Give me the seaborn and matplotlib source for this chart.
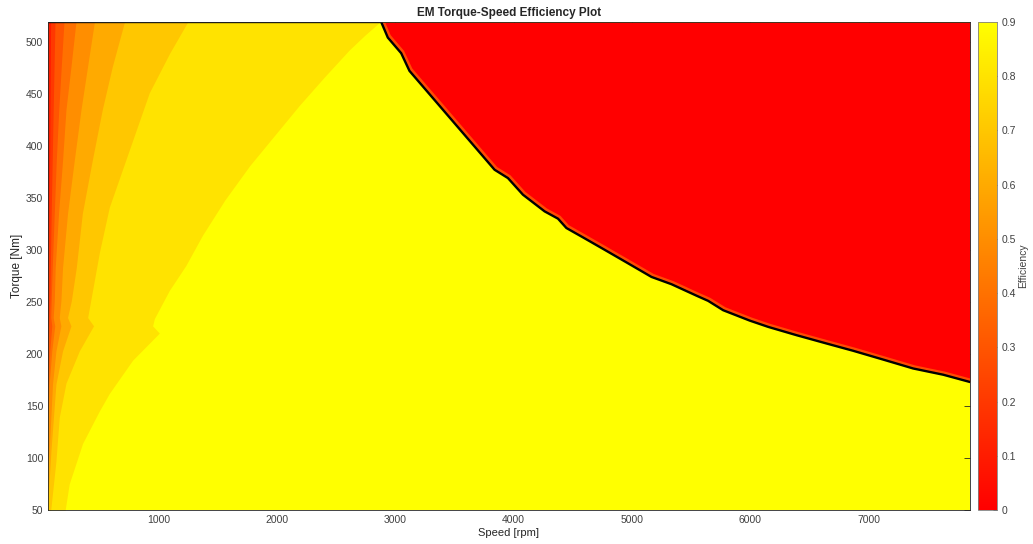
import numpy as np
import matplotlib
matplotlib.use("Agg")
import matplotlib.pyplot as plt
import matplotlib.transforms as mtransforms
import seaborn as sns

# ---------------- data ----------------
speed_min, speed_max = 65, 7857
torque_min, torque_max = 50, 519

# maximum torque envelope
curve_speed = [65, 2881, 2937, 3050, 3120, 3839, 3952, 4079, 4262, 4375, 4446, 4586,
               4755, 4953, 5165, 5334, 5545, 5644, 5771, 5996, 6151, 6391, 6645,
               6870, 7110, 7377, 7631, 7857]
curve_torque = [519, 519, 504, 489, 472, 377, 369, 353, 337, 330, 321, 312,
                301, 288, 274, 267, 256, 251, 242, 232, 226, 218, 210,
                203, 195, 186, 180, 173]

# efficiency contour levels (speed of the iso-efficiency line at given torques)
lvl_90_torque = [519, 506, 492, 466, 439, 410, 381, 348, 314, 285, 261, 234, 227, 220, 194, 162, 145, 114, 75, 50]
lvl_90_speed = [2870, 2740, 2610, 2400, 2190, 1980, 1770, 1560, 1370, 1230, 1090, 964, 949, 1006, 780, 583, 498, 357, 244, 210]

lvl_80_torque = [519, 489, 451, 396, 341, 298, 235, 227, 203, 172, 139, 97, 50]
lvl_80_speed = [1245, 1093, 921, 752, 583, 500, 400, 450, 330, 217, 160, 132, 88]

lvl_70_torque = [519, 476, 435, 386, 335, 283, 251, 235, 227, 203, 171, 107, 60]
lvl_70_speed = [711, 608, 524, 439, 355, 304, 262, 230, 259, 188, 132, 90, 65]

lvl_60_torque = [519, 476, 435, 386, 335, 283, 251, 235, 227, 203, 171, 107, 90]
lvl_60_speed = [457, 399, 344, 287, 230, 188, 174, 160, 174, 132, 103, 75, 65]

lvl_50_torque = [519, 476, 435, 386, 335, 283, 251, 235, 227, 203, 171, 136]
lvl_50_speed = [301, 259, 217, 188, 154, 126, 118, 109, 122, 97, 75, 65]

lvl_40_torque = [519, 476, 435, 386, 335, 283, 251, 235, 227, 203, 165]
lvl_40_speed = [200, 177, 156, 135, 118, 101, 92, 88, 97, 80, 65]

lvl_30_torque = [519, 435, 335, 251, 222, 194]
lvl_30_speed = [124, 109, 92, 80, 71, 65]

lvl_20_torque = [519, 396, 300, 251]
lvl_20_speed = [87, 80, 71, 65]

levels = [0.9, 0.8, 0.7, 0.6, 0.5, 0.4, 0.3, 0.2]
level_torques = [lvl_90_torque, lvl_80_torque, lvl_70_torque, lvl_60_torque,
                 lvl_50_torque, lvl_40_torque, lvl_30_torque, lvl_20_torque]
level_speeds = [lvl_90_speed, lvl_80_speed, lvl_70_speed, lvl_60_speed,
                lvl_50_speed, lvl_40_speed, lvl_30_speed, lvl_20_speed]

xticks = [1000, 2000, 3000, 4000, 5000, 6000, 7000]
yticks = [50, 100, 150, 200, 250, 300, 350, 400, 450, 500]
cbar_ticks = [0, 0.1, 0.2, 0.3, 0.4, 0.5, 0.6, 0.7, 0.8, 0.9]

# ---------------- styling ----------------
sns.set_style("white")
plt.rcParams["font.family"] = ["Liberation Sans", "DejaVu Sans"]
cmap = plt.get_cmap("autumn")
norm = matplotlib.colors.Normalize(vmin=0, vmax=0.9)
axis_col = "#262626"

fig = plt.figure(figsize=(10.33, 5.44), dpi=100)
ax = fig.add_axes([48 / 1033, 34 / 544, 922 / 1033, 488 / 544])
cax = fig.add_axes([978 / 1033, 34 / 544, 19 / 1033, 488 / 544])

# background: highest efficiency band
ax.set_facecolor(cmap(norm(0.9)))

# iso-efficiency bands, filled from the left edge to each contour line
for lvl, tq, sp in zip(levels, level_torques, level_speeds):
    lower = round(lvl - 0.1, 2)
    ax.fill_betweenx(tq, speed_min, sp, color=cmap(norm(lower)), lw=0)

# region beyond the torque envelope (efficiency 0)
ax.fill_between(curve_speed, curve_torque, torque_max, color=cmap(norm(0.0)), lw=0)

# soft orange fringe on the outer side of the envelope
sns.lineplot(x=curve_speed, y=curve_torque, sort=False, color="#FF8A00", lw=2.2,
             alpha=0.55, ax=ax)
fringe = ax.lines[-1]
fringe.set_transform(mtransforms.offset_copy(ax.transData, fig=fig, x=1.5, y=1.6, units="dots"))

# max torque curve
sns.lineplot(x=curve_speed, y=curve_torque, sort=False, color="black", lw=1.7, ax=ax)

ax.set_xlim(speed_min, speed_max)
ax.set_ylim(torque_min, torque_max)
ax.set_xticks(xticks)
ax.set_yticks(yticks)
ax.tick_params(direction="in", length=4, width=0.6, colors=axis_col, labelsize=7.5,
               top=True, right=True, labelcolor="#404040")
for s in ax.spines.values():
    s.set_color(axis_col)
    s.set_linewidth(0.6)
ax.set_xlabel("Speed [rpm]", fontsize=8, color="#262626", labelpad=2)
ax.set_ylabel("Torque [Nm]", fontsize=8.5, color="#262626", labelpad=2)
ax.set_title("EM Torque-Speed Efficiency Plot", fontsize=8.5, fontweight="bold", pad=4)

sm = matplotlib.cm.ScalarMappable(norm=norm, cmap=cmap)
cb = fig.colorbar(sm, cax=cax, ticks=cbar_ticks)
cb.ax.set_yticklabels([f"{t:g}" for t in cbar_ticks])
cb.ax.tick_params(direction="in", length=3, width=0.6, colors=axis_col, labelsize=7.5,
                  labelcolor="#404040")
cb.outline.set_edgecolor("#808080")
cb.outline.set_linewidth(0.6)
cb.set_label("Efficiency", fontsize=7.5, color="#404040", labelpad=1)

fig.savefig("out.png", dpi=100)
